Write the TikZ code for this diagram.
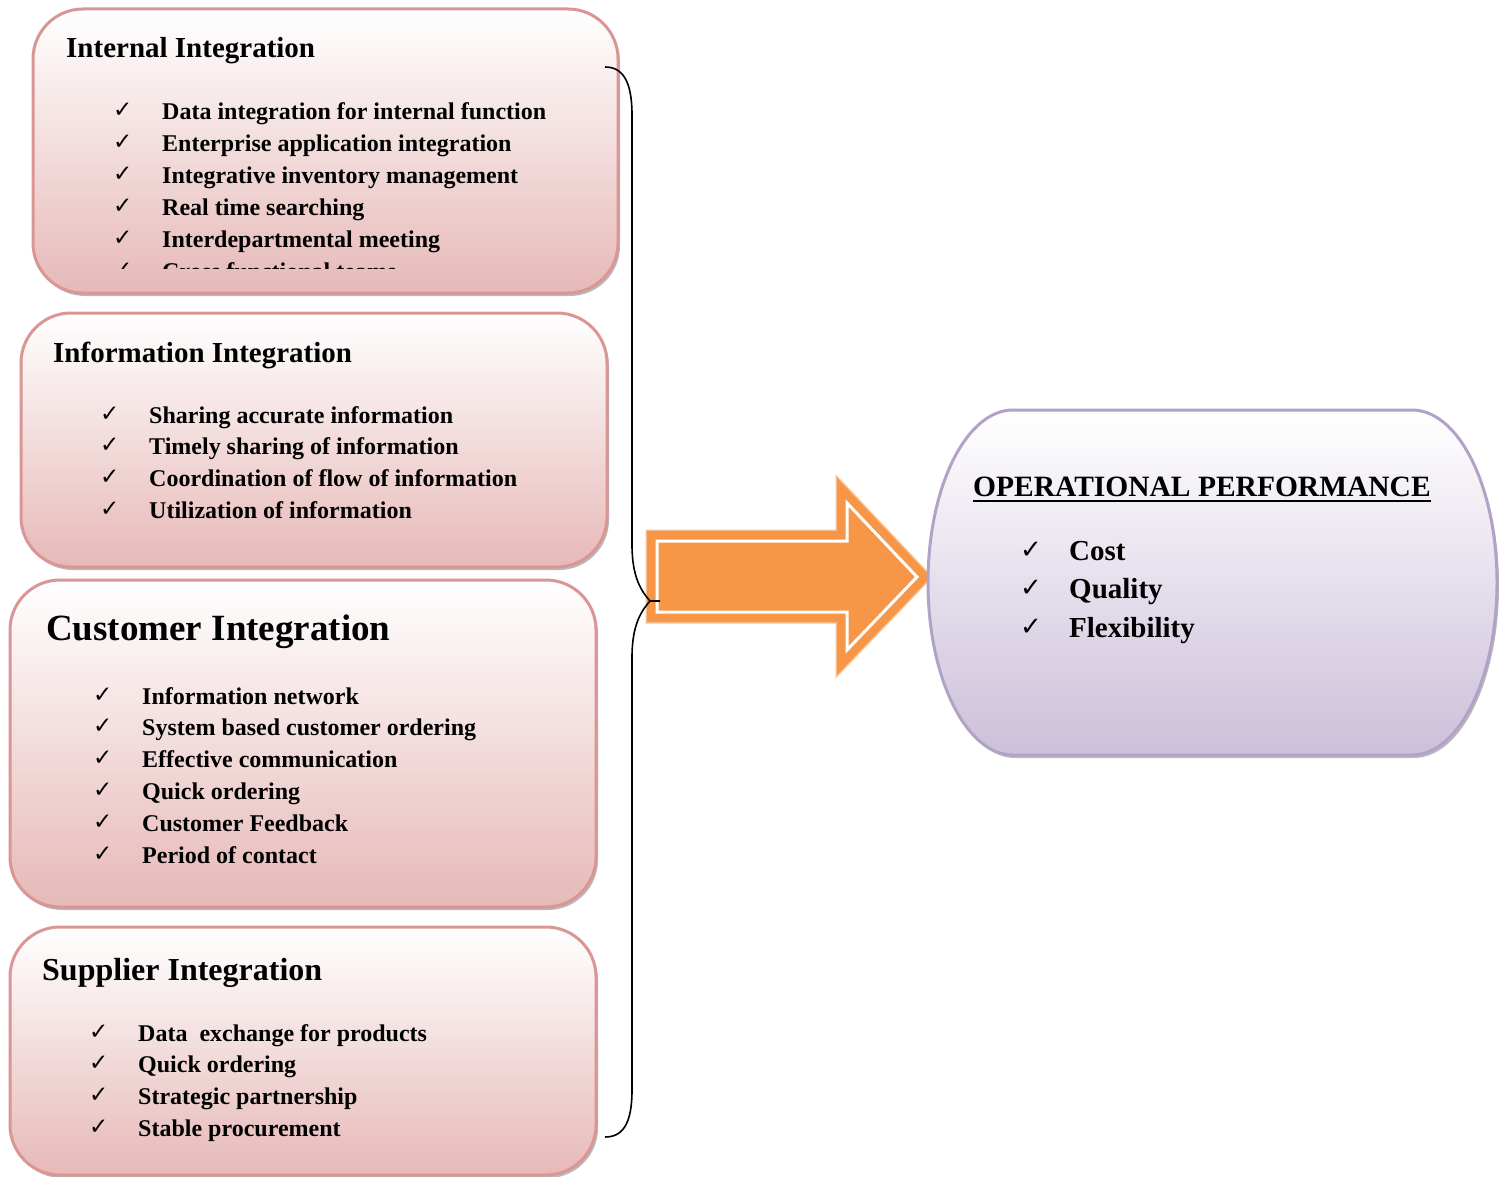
\documentclass[tikz,border=0pt]{standalone}
\usepackage{fontspec}
\setmainfont{Liberation Serif}
\newfontfamily\symf{DejaVu Sans}
\usetikzlibrary{shadows}
\definecolor{pinkline}{HTML}{D99694}
\definecolor{pinkbot}{HTML}{E6B9B8}
\definecolor{lavline}{HTML}{B3A2C7}
\definecolor{lavbot}{HTML}{CCC0DA}
\definecolor{arrorange}{HTML}{F79646}
\definecolor{arrlight}{HTML}{FAC090}
\begin{document}
\begin{tikzpicture}[x=1pt,y=1pt,
 boxshadow/.style={drop shadow={shadow xshift=2pt, shadow yshift=-3pt, fill=black!50, opacity=0.55}},
 pinkbox/.style={draw=pinkline, line width=3pt, rounded corners=50pt, top color=white, bottom color=pinkbot, boxshadow, anchor=north west, inner sep=0pt, outer sep=0pt},
 title/.style={anchor=base west, inner sep=0pt, font=\bfseries\fontsize{29}{34}\selectfont},
 item/.style={anchor=base west, inner sep=0pt, font=\bfseries\fontsize{24}{28}\selectfont},
 chk/.style={anchor=base west, inner sep=0pt, font=\symf\bfseries\fontsize{23}{28}\selectfont},
 bigitem/.style={anchor=base west, inner sep=0pt, font=\bfseries\fontsize{29}{34}\selectfont},
 bigchk/.style={anchor=base west, inner sep=0pt, font=\symf\bfseries\fontsize{26}{30}\selectfont},
]
\useasboundingbox (0,0) rectangle (1499,-1177);

% ---- boxes ----
\node[pinkbox, minimum width=585pt, minimum height=284pt] (b1) at (33,-9) {};
\node[pinkbox, minimum width=586pt, minimum height=254pt] (b2) at (21,-313) {};
\node[pinkbox, minimum width=586pt, minimum height=327pt] (b3) at (10,-580) {};
\node[pinkbox, minimum width=586pt, minimum height=248pt] (b4) at (10,-927) {};

% ---- box 1 ----
\node[title] (t1) at (66,-58) {Internal Integration};
\foreach \txt [count=\i] in {Data integration for internal function, Enterprise application integration, Integrative inventory management, Real time searching, Interdepartmental meeting}{
  \node[chk] (c1-\i) at (113,{-118-31.8*(\i-1)}) {✓};
  \node[item] (i1-\i) at (162,{-120-31.8*(\i-1)}) {\txt};
}
\begin{scope}
\clip (30,-200) rectangle (620,-268);
\node[chk] (c1-6) at (113,-277) {✓};
\node[item] (i1-6) at (162,-279) {Cross functional teams};
\end{scope}

% ---- box 2 ----
\node[title] (t2) at (53,-362) {Information Integration};
\foreach \txt [count=\i] in {Sharing accurate information, Timely sharing of information, Coordination of flow of information, Utilization of information}{
  \node[chk] (c2-\i) at (100,{-421-31.8*(\i-1)}) {✓};
  \node[item] (i2-\i) at (149,{-423-31.8*(\i-1)}) {\txt};
}

% ---- box 3 ----
\node[title, font=\bfseries\fontsize{37}{42}\selectfont] (t3) at (46,-640) {Customer Integration};
\foreach \txt [count=\i] in {Information network, System based customer ordering, Effective communication, Quick ordering, Customer Feedback, Period of contact}{
  \node[chk] (c3-\i) at (93,{-702-31.8*(\i-1)}) {✓};
  \node[item] (i3-\i) at (142,{-704-31.8*(\i-1)}) {\txt};
}

% ---- box 4 ----
\node[title, font=\bfseries\fontsize{32}{38}\selectfont] (t4) at (42,-980) {Supplier Integration};
\foreach \txt [count=\i] in {Data\ \ exchange for products, Quick ordering, Strategic partnership, Stable procurement}{
  \node[chk] (c4-\i) at (89,{-1039-31.8*(\i-1)}) {✓};
  \node[item] (i4-\i) at (138,{-1041-31.8*(\i-1)}) {\txt};
}

% ---- block arrow ----
\path[draw=white, line width=3pt, fill=arrorange, line join=miter,
      preaction={draw=arrlight, line width=23pt, line join=miter},
      preaction={draw=arrorange, line width=20pt, line join=miter}]
  (657,-541) -- (847,-541) -- (847,-503) -- (917,-577) -- (847,-650) -- (847,-612) -- (657,-612) -- cycle;

% ---- operational performance shape ----
\path[draw=lavline, line width=3pt, top color=white, bottom color=lavbot, boxshadow]
  (1013,-410) -- (1412,-410) arc[start angle=90, end angle=-90, x radius=85, y radius=172.5]
  -- (1013,-755) arc[start angle=270, end angle=90, x radius=85, y radius=172.5] -- cycle;
\coordinate (opw) at (928,-582);
\node[title, font=\bfseries\fontsize{29.5}{36}\selectfont] (op) at (973,-496) {OPERATIONAL PERFORMANCE};
\draw[line width=2.5pt] ([yshift=-5pt]op.base west) -- ([yshift=-5pt]op.base east);
\foreach \txt/\yy [count=\i] in {Cost/560, Quality/598, Flexibility/637}{
  \node[bigchk] (c5-\i) at (1020,-\yy+2) {✓};
  \node[bigitem] (i5-\i) at (1069,-\yy) {\txt};
}

% ---- brace ----
\coordinate (bt) at (605,-67);
\coordinate (bb) at (605,-1137);
\coordinate (bm) at (650,-601);
\coordinate (tip) at (660,-601);
\draw[line width=1.6pt] (bt) .. controls (622,-67) and (632,-80) .. (632,-115) -- (632,-545)
  .. controls (632,-578) and (642,-592) .. (bm) -- (tip);
\draw[line width=1.6pt] (bm) .. controls (642,-610) and (632,-624) .. (632,-657) -- (632,-1090)
  .. controls (632,-1125) and (622,-1137) .. (bb);
\end{tikzpicture}
\end{document}
